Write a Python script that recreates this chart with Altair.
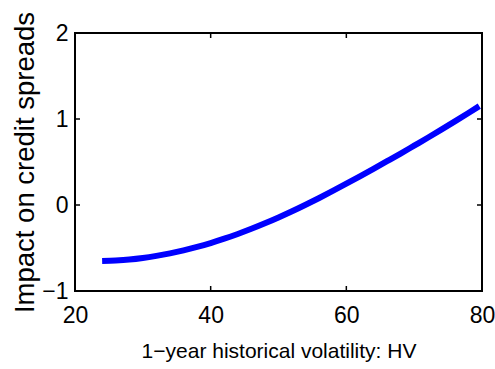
import altair as alt
import pandas as pd

# Values
hv = [24, 26, 28, 30, 32, 34, 36, 38, 40, 42, 44, 46, 48, 50, 52, 54, 56, 58, 60,
      62, 64, 66, 68, 70, 72, 74, 76, 78, 79.6]
impact = [-0.65, -0.645, -0.635, -0.617, -0.592, -0.562, -0.527, -0.487, -0.442, -0.392,
          -0.337, -0.277, -0.213, -0.145, -0.073, 0.003, 0.082, 0.164, 0.248,
          0.334, 0.421, 0.509, 0.598, 0.69, 0.782, 0.876, 0.972, 1.07, 1.15]
x_ticks = [20, 40, 60, 80]
y_ticks = [-1, 0, 1, 2]
x_title = "1\u2212year historical volatility: HV"
y_title = "Impact on credit spreads"

df = pd.DataFrame({"hv": hv, "impact": impact})
xt = pd.DataFrame({"hv": x_ticks})
yt = pd.DataFrame({"impact": y_ticks})

W, H = 407, 258
TL = 5
FONT = "Liberation Sans, Arial, Helvetica, sans-serif"

xs = alt.Scale(domain=[20, 80], nice=False, zero=False)
ys = alt.Scale(domain=[-1, 2], nice=False, zero=False)

x_axis = alt.Axis(
    orient="bottom", values=x_ticks, ticks=False, domain=False, grid=False,
    labelFont=FONT, labelFontSize=23, labelColor="black", labelPadding=13,
    labelFlush=False,
    title=x_title, titleFont=FONT, titleFontSize=21, titleFontWeight="normal",
    titleColor="black", titleX=W / 2, titleY=66, titleAlign="center",
    titleBaseline="alphabetic")
y_axis = alt.Axis(
    orient="left", values=y_ticks, ticks=False, domain=False, grid=False,
    labelFont=FONT, labelFontSize=23, labelColor="black", labelPadding=7,
    labelFlush=False, labelBaseline="middle",
    title=y_title, titleFont=FONT, titleFontSize=27.5, titleFontWeight="normal",
    titleColor="black", titleX=-50, titleY=H / 2, titleAlign="center",
    titleAngle=270, titleBaseline="middle")

X = alt.X("hv:Q", scale=xs, axis=x_axis)
Y = alt.Y("impact:Q", scale=ys, axis=y_axis)

main = alt.Chart(df).mark_line(color="#0000FF", strokeWidth=6, clip=True,
                               interpolate="monotone").encode(x=X, y=Y)

tick_style = dict(color="black", strokeWidth=1.5)
bottom_ticks = alt.Chart(xt).mark_rule(**tick_style).encode(
    x=X, y=alt.value(H), y2=alt.value(H - TL))
top_ticks = alt.Chart(xt).mark_rule(**tick_style).encode(
    x=X, y=alt.value(0), y2=alt.value(TL))
left_ticks = alt.Chart(yt).mark_rule(**tick_style).encode(
    y=Y, x=alt.value(0), x2=alt.value(TL))
right_ticks = alt.Chart(yt).mark_rule(**tick_style).encode(
    y=Y, x=alt.value(W), x2=alt.value(W - TL))

chart = alt.layer(main, bottom_ticks, top_ticks, left_ticks, right_ticks).properties(
    width=W, height=H,
    autosize=alt.AutoSizeParams(type="none"),
    padding={"left": 75, "top": 33, "right": 13, "bottom": 78},
    background="white",
).configure_view(stroke="black", strokeWidth=2)

chart.save("out.html", embed_options={"renderer": "svg", "actions": False})
